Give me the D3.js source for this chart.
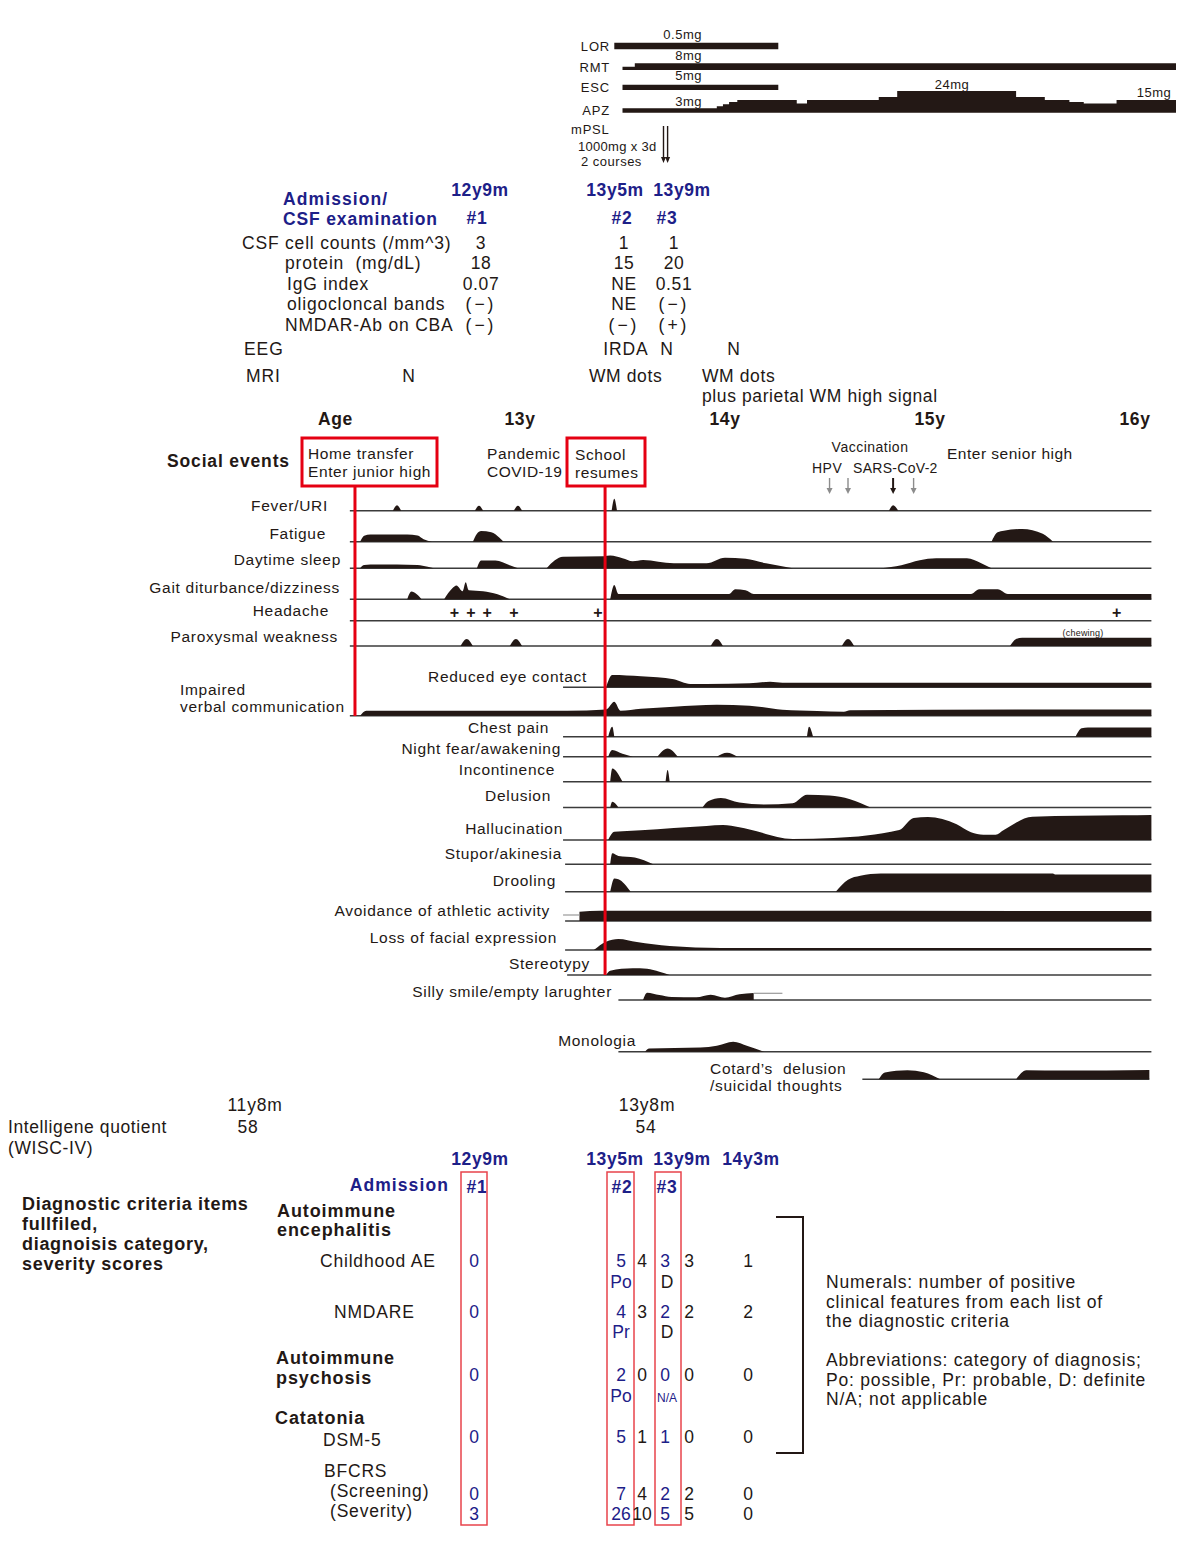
<!DOCTYPE html>
<html>
<head>
<meta charset="utf-8">
<script src="https://cdn.jsdelivr.net/npm/d3@7"></script>
<style>
  body { margin: 0; background: #fff; }
  text { font-family: "Liberation Sans", Arial, sans-serif; white-space: pre; }
</style>
</head>
<body>
<svg id="chart" width="1196" height="1555"></svg>
<script>
// ---- data (ages in years) ----
const ageTicks = [13, 14, 15, 16];

const drugNames = ["LOR", "RMT", "ESC", "APZ"];
const drugDoseLabels = ["0.5mg", "8mg", "5mg", "3mg"];
const lorDose = [[13.46, 0.5], [14.26, 0.5]];
const rmtDose = [[13.50, 4], [13.56, 8], [16.20, 8]];
const escDose = [[13.50, 5], [14.26, 5]];
const apzDose = [[13.50, 3], [13.96, 6], [13.99, 9], [14.02, 12], [14.06, 15], [14.35, 10],
  [14.40, 15], [14.75, 18], [14.84, 24], [15.42, 18], [15.56, 15], [15.68, 12], [15.75, 10],
  [15.91, 15], [16.20, 15]];
const mpslCourses = [13.70, 13.72];

const csfTimes = ["12y9m", "13y5m", "13y9m"];
const csfIds = ["#1", "#2", "#3"];
const csfRowNames = ["CSF cell counts (/mm^3)", "protein  (mg/dL)", "IgG index", "oligocloncal bands", "NMDAR-Ab on CBA"];
const csfCellCount = ["3", "1", "1"];
const csfProtein = ["18", "15", "20"];
const csfIgG = ["0.07", "NE", "0.51"];
const csfOCB = ["(\u2212)", "NE", "(\u2212)"];
const csfNMDAR = ["(\u2212)", "(\u2212)", "(+)"];
const eegResults = ["IRDA", "N", "N"];
const mriResults = ["N", "WM dots", "WM dots", "plus parietal WM high signal"];

const socialEventAges = [12.195, 13.415];
const vaccineAges = [14.51, 14.60, 14.82, 14.92];

const symptomNames = ["Fever/URI", "Fatigue", "Daytime sleep", "Gait diturbance/dizziness", "Headache",
  "Paroxysmal weakness", "Reduced eye contact", "Impaired\nverbal communication", "Chest pain",
  "Night fear/awakening", "Incontinence", "Delusion", "Hallucination", "Stupor/akinesia", "Drooling",
  "Avoidance of athletic activity", "Loss of facial expression", "Stereotypy", "Silly smile/empty larughter",
  "Monologia", "Cotard\u2019s  delusion\n/suicidal thoughts"];

const feverURI = [
  [[12.38, 0], [12.40, 5.5], [12.42, 0]],
  [[12.78, 0], [12.80, 5], [12.82, 0]],
  [[12.97, 0], [12.99, 5], [13.01, 0]],
  [[13.447, 0], [13.46, 12], [13.473, 0]],
  [[14.80, 0], [14.82, 5.5], [14.845, 0]]
];
const fatigue = [
  [[12.22, 0], [12.24, 6], [12.27, 7.3], [12.45, 7.3], [12.50, 6.3], [12.53, 2.5], [12.57, 0]],
  [[12.77, 0], [12.79, 8], [12.81, 10.7], [12.86, 9.5], [12.90, 4], [12.92, 0]],
  [[15.30, 0], [15.33, 9.5], [15.36, 11], [15.45, 12.7], [15.55, 8], [15.60, 0]]
];
const daytimeSleep = [
  [[12.22, 0], [12.24, 3.3], [12.30, 3.8], [12.50, 3.3], [12.55, 1.5], [12.58, 0]],
  [[12.79, 0], [12.81, 7.7], [12.88, 7.7], [12.95, 3], [12.99, 0]],
  [[13.13, 0], [13.17, 8], [13.21, 11.5], [13.41, 12], [13.44, 12.7], [13.50, 10], [13.55, 7],
    [13.60, 8.3], [13.75, 5], [13.91, 5], [14.00, 10.5], [14.10, 9.5], [14.20, 5], [14.33, 0]],
  [[14.76, 0], [14.86, 3], [14.95, 8], [15.03, 10], [15.18, 10], [15.25, 5], [15.30, 0]]
];
const gait = [
  [[12.45, 0], [12.47, 7.7], [12.52, 0]],
  [[12.63, 0], [12.67, 11], [12.69, 13.7], [12.72, 8], [12.735, 17], [12.75, 9], [12.82, 8], [12.89, 5], [12.95, 0]],
  [[13.44, 0], [13.46, 14.3], [13.48, 5.3], [14.02, 5.3], [14.05, 10], [14.10, 9], [14.14, 5.3],
    [15.20, 5.3], [15.24, 10], [15.33, 10], [15.38, 5.3], [16.08, 5.3]]
];
const headacheEpisodes = [12.68, 12.76, 12.84, 12.97, 13.38, 15.91];
const paroxWeakness = [
  [[12.71, 0], [12.74, 7], [12.77, 0]],
  [[12.95, 0], [12.98, 7], [13.01, 0]],
  [[13.93, 0], [13.96, 7], [13.99, 0]],
  [[14.57, 0], [14.60, 7], [14.63, 0]],
  [[15.39, 0], [15.42, 7], [15.45, 8.3], [16.08, 8.3]]
];
const eyeContact = [
  [[13.42, 0], [13.45, 12.3], [13.59, 11], [13.75, 8], [13.83, 3.3], [13.91, 3.3], [14.12, 4],
    [14.22, 5.5], [14.28, 4.5], [16.08, 4.5]]
];
const verbalComm = [
  [[12.22, 0], [12.25, 5], [13.23, 5], [13.42, 6.3], [13.46, 14], [13.49, 5], [13.59, 7], [13.75, 9],
    [13.96, 11], [14.12, 10], [14.28, 6], [14.45, 4.7], [14.58, 4], [14.61, 5.5], [15.73, 6.3], [16.08, 6.3]]
];
const chestPain = [
  [[13.43, 0], [13.45, 10], [13.46, 0]],
  [[14.40, 0], [14.41, 10], [14.43, 0]],
  [[15.71, 0], [15.74, 8.5], [15.77, 9.3], [16.08, 9.3]]
];
const nightFear = [
  [[13.43, 0], [13.45, 6.7], [13.50, 3], [13.55, 0]],
  [[13.67, 0], [13.72, 8.3], [13.77, 0]],
  [[13.96, 0], [14.01, 4], [14.06, 0]]
];
const incontinence = [
  [[13.44, 0], [13.45, 13.3], [13.50, 0]],
  [[13.71, 0], [13.72, 11.7], [13.73, 0]]
];
const delusion = [
  [[13.44, 0], [13.45, 5.7], [13.48, 0]],
  [[13.89, 0], [13.92, 6.5], [13.98, 9.5], [14.07, 5], [14.19, 3], [14.33, 4.3], [14.40, 12.7],
    [14.51, 12], [14.61, 8.3], [14.71, 0]]
];
const hallucination = [
  [[13.43, 0], [13.46, 8.3], [13.50, 8.7], [13.59, 9.7], [13.75, 12], [13.91, 14], [13.99, 15],
    [14.07, 12.7], [14.12, 10.5], [14.33, 1], [14.53, 2], [14.85, 10], [14.92, 22], [14.99, 23],
    [15.13, 15.7], [15.20, 7.7], [15.26, 5.3], [15.32, 5.3], [15.36, 10], [15.50, 23.3], [15.94, 24.7], [16.08, 25]]
];
const stupor = [[[13.44, 0], [13.45, 11], [13.48, 8.3], [13.56, 6.7], [13.65, 0]]];
const drooling = [
  [[13.44, 0], [13.46, 13.3], [13.48, 12.5], [13.54, 0]],
  [[14.54, 0], [14.60, 12], [14.66, 16], [14.76, 18.3], [15.60, 18.3], [15.61, 17.3], [16.08, 17.3]]
];
const avoidance = [[[13.29, 9.3], [13.39, 10.3], [16.08, 10]]];
const facialLoss = [[[13.36, 0], [13.42, 8.3], [13.48, 11], [13.57, 8], [13.73, 4], [13.98, 2], [16.08, 2]]];
const stereotypy = [[[13.42, 0], [13.44, 4.3], [13.55, 6.7], [13.62, 6.3], [13.68, 3.3], [13.73, 0]]];
const sillySmile = [[[13.60, 0], [13.62, 7.3], [13.68, 5], [13.74, 3], [13.86, 2.7], [13.93, 5.3],
  [14.00, 2.3], [14.07, 5.7], [14.14, 7]]];
const monologia = [[[13.61, 0], [13.63, 3.3], [13.88, 4.3], [13.96, 6], [14.04, 10], [14.11, 5.7], [14.19, 0]]];
const cotard = [
  [[14.75, 0], [14.78, 6.7], [14.89, 9], [14.97, 7], [15.05, 0]],
  [[15.42, 0], [15.47, 9], [15.65, 8.7], [16.07, 9.3]]
];
// unclear (grey) extensions: [start, end, level]
const avoidanceUnclear = [13.21, 13.29, 6];
const sillyUnclear = [14.14, 14.28, 6.7];

const symptomProfiles = [feverURI, fatigue, daytimeSleep, gait, [], paroxWeakness, eyeContact, verbalComm,
  chestPain, nightFear, incontinence, delusion, hallucination, stupor, drooling, avoidance, facialLoss,
  stereotypy, sillySmile, monologia, cotard];
const trackStart = [12.17, 12.17, 12.17, 12.17, 12.17, 12.17, 13.21, 12.17, 13.21, 13.21, 13.21, 13.21,
  13.21, 13.22, 13.22, 13.22, 13.22, 13.23, 13.48, 13.48, 14.67];
const trackEnd = 16.08;

const iqAges = ["11y8m", "13y8m"];
const iqScores = ["58", "54"];

const diagTimes = ["12y9m", "13y5m", "13y9m", "14y3m"];
const diagIds = ["#1", "#2", "#3"];
const childhoodAE = ["0", "5", "4", "3", "3", "1"];
const childhoodAECat = ["", "Po", "", "D", "", ""];
const nmdare = ["0", "4", "3", "2", "2", "2"];
const nmdareCat = ["", "Pr", "", "D", "", ""];
const psychosis = ["0", "2", "0", "0", "0", "0"];
const psychosisCat = ["", "Po", "", "N/A", "", ""];
const dsm5 = ["0", "5", "1", "1", "0", "0"];
const bfcrsScreening = ["0", "7", "4", "2", "2", "0"];
const bfcrsSeverity = ["3", "26", "10", "5", "5", "0"];

const noteLines = ["Numerals: number of positive", "clinical features from each list of", "the diagnostic criteria",
  "", "Abbreviations: category of diagnosis;", "Po: possible, Pr: probable, D: definite", "N/A; not applicable"];

// ---- layout ----
const ink = "#231815", navy = "#1d2088", red = "#e50012", grey = "#8c8c8c";
const svg = d3.select("#chart");
svg.append("rect").attr("width", 1196).attr("height", 1555).attr("fill", "#fff");

const x = d3.scaleLinear().domain([13, 16]).range([520, 1135]);
const level = d3.scaleLinear().domain([0, 25]).range([0, 25]);

function label(px, py, s, o = {}) {
  return svg.append("text").attr("x", px).attr("y", py).text(s)
    .attr("font-size", o.size || 17.5)
    .attr("font-weight", o.bold ? "bold" : null)
    .attr("fill", o.color || ink)
    .attr("text-anchor", o.anchor || "start")
    .style("letter-spacing", (o.ls === undefined ? 0.8 : o.ls) + "px");
}

// ---- drugs ----
const drugBase = [49.3, 70, 90, 112.7];
const drugH = [
  d3.scaleLinear().domain([0, 0.5]).range([0, 6.6]),
  d3.scaleLinear().domain([0, 8]).range([0, 6.7]),
  d3.scaleLinear().domain([0, 5]).range([0, 5.2]),
  d3.scaleLinear().domain([0, 3, 15, 24]).range([0, 4.4, 12.7, 21.7])
];
[lorDose, rmtDose, escDose, apzDose].forEach((doses, i) => {
  const a = d3.area().curve(d3.curveStepAfter)
    .x(d => x(d[0])).y0(drugBase[i]).y1(d => drugBase[i] - drugH[i](d[1]));
  svg.append("path").attr("d", a(doses)).attr("fill", ink);
  label(610, drugBase[i] + 2, drugNames[i], { size: 13, anchor: "end", ls: 0.8 });
  label(702, drugBase[i] - (i === 3 ? 7 : 10), drugDoseLabels[i], { size: 13, anchor: "end", ls: 0.5 });
});
label(952, 89, "24mg", { size: 13, anchor: "middle", ls: 0.5 });
label(1154, 97, "15mg", { size: 13, anchor: "middle", ls: 0.5 });
label(571, 134, "mPSL", { size: 13, ls: 0.8 });
label(578, 151, "1000mg x 3d", { size: 13, ls: 0.3 });
label(581, 166, "2 courses", { size: 13, ls: 0.5 });
mpslCourses.forEach(a => {
  svg.append("line").attr("x1", x(a)).attr("x2", x(a)).attr("y1", 126).attr("y2", 158)
    .attr("stroke", ink).attr("stroke-width", 1.4);
  svg.append("path").attr("d", `M${x(a) - 2.5},157 L${x(a)},163 L${x(a) + 2.5},157 Z`).attr("fill", ink);
});

// ---- CSF table ----
const csfCol = [481, 624, 674];
label(283, 205, "Admission/", { bold: true, color: navy, ls: 1.1 });
label(283, 225, "CSF examination", { bold: true, color: navy, ls: 0.85 });
csfTimes.forEach((t, i) => label([480, 615, 682][i], 196, t, { bold: true, color: navy, anchor: "middle", ls: 0.6 }));
csfIds.forEach((t, i) => label([477, 622, 667][i], 224, t, { bold: true, color: navy, anchor: "middle" }));
const csfRowX = [242, 285, 287, 287, 285];
const csfRowY = [249, 269, 290, 310, 331];
const csfValues = [csfCellCount, csfProtein, csfIgG, csfOCB, csfNMDAR];
csfRowNames.forEach((r, i) => {
  label(csfRowX[i], csfRowY[i], r, { ls: 0.8 });
  csfValues[i].forEach((v, j) => label(csfCol[j], csfRowY[i], v,
    { anchor: "middle", ls: v.startsWith("(") ? 3 : 0.6 }));
});
label(244, 355, "EEG", { ls: 0.9 });
eegResults.forEach((v, j) => label([626, 667, 734][j], 355, v, { anchor: "middle", ls: 0.9 }));
label(246, 382, "MRI", { ls: 0.9 });
label(409, 382, mriResults[0], { anchor: "middle" });
label(589, 382, mriResults[1], { ls: 0.6 });
label(702, 382, mriResults[2], { ls: 0.6 });
label(702, 402, mriResults[3], { ls: 0.6 });

// ---- age row ----
label(318, 425, "Age", { bold: true, ls: 0.6 });
ageTicks.forEach(a => label(x(a), 425, a + "y", { bold: true, anchor: "middle", ls: 0.6 }));

// ---- social events ----
label(167, 467, "Social events", { bold: true, ls: 0.85 });
svg.append("rect").attr("x", 302).attr("y", 438).attr("width", 135).attr("height", 48)
  .attr("fill", "none").attr("stroke", red).attr("stroke-width", 3);
svg.append("rect").attr("x", 567).attr("y", 438).attr("width", 78).attr("height", 48)
  .attr("fill", "none").attr("stroke", red).attr("stroke-width", 3);
label(308, 459, "Home transfer", { size: 15.5, ls: 0.6 });
label(308, 477, "Enter junior high", { size: 15.5, ls: 0.6 });
label(487, 459, "Pandemic", { size: 15.5, ls: 0.6 });
label(487, 477, "COVID-19", { size: 15.5, ls: 0.5 });
label(575, 460, "School", { size: 15.5, ls: 0.6 });
label(575, 478, "resumes", { size: 15.5, ls: 0.6 });
label(870, 452, "Vaccination", { size: 14, anchor: "middle", ls: 0.5 });
label(812, 473, "HPV", { size: 14, ls: 0.5 });
label(853, 473, "SARS-CoV-2", { size: 14, ls: 0.3 });
label(947, 459, "Enter senior high", { size: 15.5, ls: 0.5 });
vaccineAges.forEach((a, i) => {
  const c = i === 2 ? ink : grey;
  svg.append("line").attr("x1", x(a)).attr("x2", x(a)).attr("y1", 478).attr("y2", 489)
    .attr("stroke", c).attr("stroke-width", i === 2 ? 2 : 1.4);
  svg.append("path").attr("d", `M${x(a) - 3},488 L${x(a)},494 L${x(a) + 3},488 Z`).attr("fill", c);
});

// ---- symptom tracks ----
const trackY = [510.7, 541.7, 568.3, 599.3, 620.7, 646, 687.3, 715.7, 736.7, 756.7, 781.7, 807.5, 840,
  864.3, 891.7, 921, 950, 975, 1000, 1051.7, 1079.3];
const labelEnd = [328, 326, 341, 340, 329, 338, 587, 180, 549, 561, 555, 551, 563, 562, 556, 550, 557,
  590, 612, 636, 710];
const labelY = [511, 539, 565, 593, 616, 642, 682, 695, 733, 754, 775, 801, 834, 859, 886, 916, 943,
  969, 997, 1046, 1074];

const tracks = svg.append("g");
symptomNames.forEach((name, i) => {
  const y0 = trackY[i];
  const end = i === 20 ? 16.07 : trackEnd;
  tracks.append("line").attr("x1", x(trackStart[i])).attr("x2", x(end))
    .attr("y1", y0).attr("y2", y0).attr("stroke", "#3b3b3b").attr("stroke-width", 1.6);
  const area = d3.area().curve(d3.curveMonotoneX)
    .x(d => x(d[0])).y0(y0).y1(d => y0 - level(d[1]));
  symptomProfiles[i].forEach(seg => tracks.append("path").attr("d", area(seg)).attr("fill", ink));
  const lines = name.split("\n");
  const leftAligned = lines.length > 1;
  lines.forEach((ln, k) => label(labelEnd[i], labelY[i] + k * 17, ln,
    { size: 15.5, anchor: leftAligned ? "start" : "end", ls: 0.7 }));
});
headacheEpisodes.forEach(a => label(x(a), trackY[4] - 3, "+", { size: 16, anchor: "middle", bold: true, ls: 0 }));
label(1083, 636, "(chewing)", { size: 9, anchor: "middle", ls: 0.2 });
[[avoidanceUnclear, 15], [sillyUnclear, 18]].forEach(([u, i]) => {
  tracks.append("line").attr("x1", x(u[0])).attr("x2", x(u[1]))
    .attr("y1", trackY[i] - level(u[2])).attr("y2", trackY[i] - level(u[2]))
    .attr("stroke", "#999").attr("stroke-width", 1.2);
});

// red event lines
const redEnd = [716, 975];
socialEventAges.forEach((a, i) => {
  svg.append("line").attr("x1", x(a)).attr("x2", x(a)).attr("y1", 486).attr("y2", redEnd[i])
    .attr("stroke", red).attr("stroke-width", 3);
});

// ---- IQ ----
label(255, 1111, iqAges[0], { anchor: "middle" });
label(647, 1111, iqAges[1], { anchor: "middle" });
label(8, 1133, "Intelligene quotient", { ls: 0.6 });
label(8, 1154, "(WISC-IV)", { ls: 0.6 });
label(248, 1133, iqScores[0], { anchor: "middle" });
label(646, 1133, iqScores[1], { anchor: "middle" });

// ---- diagnostic criteria ----
diagTimes.forEach((t, i) => label([480, 615, 682, 751][i], 1165, t, { bold: true, color: navy, anchor: "middle", ls: 0.6 }));
label(449, 1191, "Admission", { bold: true, color: navy, anchor: "end", ls: 1.1 });
diagIds.forEach((t, i) => label([477, 622, 667][i], 1193, t, { bold: true, color: navy, anchor: "middle" }));
[[461, 26], [607, 27], [655, 26]].forEach(([bx, bw]) =>
  svg.append("rect").attr("x", bx).attr("y", 1172).attr("width", bw).attr("height", 353)
    .attr("fill", "none").attr("stroke", "#e8434b").attr("stroke-width", 1.5));

["Diagnostic criteria items", "fullfiled,", "diagnoisis category,", "severity scores"]
  .forEach((t, k) => label(22, 1210 + k * 20, t, { bold: true, size: 18, ls: 0.7 }));
label(277, 1217, "Autoimmune", { bold: true, size: 18, ls: 0.9 });
label(277, 1236, "encephalitis", { bold: true, size: 18, ls: 0.9 });
label(276, 1364, "Autoimmune", { bold: true, size: 18, ls: 0.9 });
label(276, 1384, "psychosis", { bold: true, size: 18, ls: 0.9 });
label(275, 1424, "Catatonia", { bold: true, size: 18, ls: 0.9 });
label(320, 1267, "Childhood AE", { ls: 0.8 });
label(334, 1318, "NMDARE", { ls: 0.8 });
label(323, 1446, "DSM-5", { ls: 0.8 });
label(324, 1477, "BFCRS", { ls: 0.8 });
label(330, 1497, "(Screening)", { ls: 0.8 });
label(330, 1517, "(Severity)", { ls: 0.8 });

const diagCol = [474, 621, 642, 665, 689, 748];
const colColor = [navy, navy, ink, navy, ink, ink];
const diagRows = [[childhoodAE, 1267], [nmdare, 1318], [psychosis, 1381], [dsm5, 1443],
  [bfcrsScreening, 1500], [bfcrsSeverity, 1520]];
diagRows.forEach(([vals, ry]) => vals.forEach((v, j) =>
  label(diagCol[j], ry, v, { anchor: "middle", color: colColor[j], ls: 0 })));
const catRows = [[childhoodAECat, 1288], [nmdareCat, 1338], [psychosisCat, 1402]];
catRows.forEach(([vals, ry]) => vals.forEach((v, j) => {
  if (!v) return;
  const small = v === "N/A";
  label(diagCol[j] + (j === 1 ? 0 : 2), ry, v, { anchor: "middle", color: (v === "D") ? ink : navy,
    size: small ? 12 : 17.5, ls: 0 });
}));

svg.append("path").attr("d", "M776,1217 H803 V1453 H776").attr("fill", "none")
  .attr("stroke", ink).attr("stroke-width", 2);
noteLines.forEach((t, k) => { if (t) label(826, 1288 + k * 19.5, t, { ls: 0.8 }); });
</script>
</body>
</html>
